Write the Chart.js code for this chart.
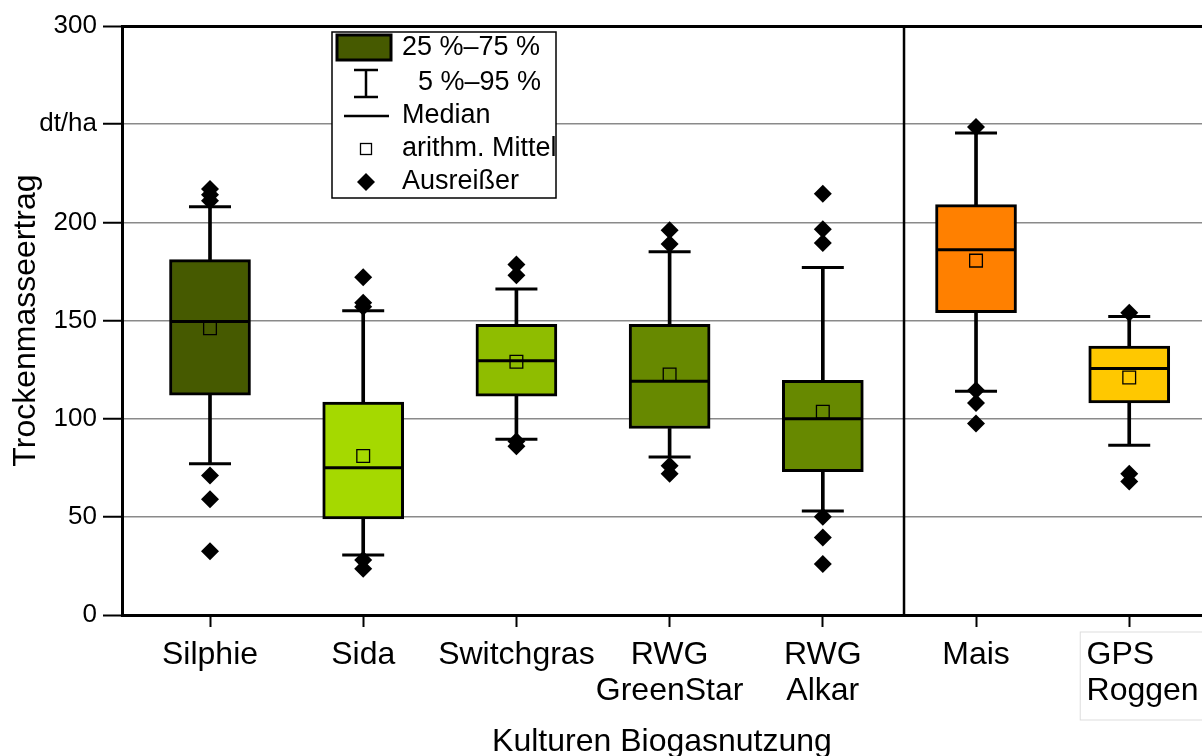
<!DOCTYPE html>
<html>
<head>
<meta charset="utf-8">
<script src="https://cdn.jsdelivr.net/npm/chart.js@4.4.0/dist/chart.umd.min.js"></script>
<style>
  html, body { margin: 0; padding: 0; background: #fff; }
  #wrap { width: 1202px; height: 756px; }
</style>
</head>
<body>
<div id="wrap"><canvas id="box"></canvas></div>
<script>
// Kulturen und Boxplot-Kennwerte (dt/ha)
const categories = ['Silphie', 'Sida', 'Switchgras', ['RWG', 'GreenStar'], ['RWG', 'Alkar'], 'Mais', ['GPS  ', '   Roggen']];
const q1     = [112, 49, 111.5, 95, 73, 154, 108];
const q3     = [181, 108.5, 148, 148, 119.5, 209, 137];
const median = [149.5, 75, 129.5, 119, 100, 186, 125.5];
const mean   = [146, 81, 129, 122.5, 103.5, 180.5, 121];
const p5     = [77, 30.5, 89.5, 80.5, 53, 114, 86.5];
const p95    = [208, 155, 166, 185, 177, 245.5, 152];
const outliers = [
  [217, 214, 211, 71, 59, 32.5],
  [172, 159, 157, 28, 23.5],
  [178.5, 173, 88.5, 86],
  [196, 189, 76, 72],
  [214.5, 196.5, 189.5, 50, 39.5, 26],
  [248.5, 114.5, 108, 97.5],
  [154, 72, 68]
];
const boxColors = ['#465a00', '#a5d900', '#8fbd00', '#678900', '#678900', '#ff8000', '#ffc800'];
const yTickLabels = ['0', '50', '100', '150', '200', 'dt/ha', '300'];
const legendLabels = ['25 %\u201375 %', '5 %\u201395 %', 'Median', 'arithm. Mittel', 'Ausrei\u00dfer'];

const xPos = categories.map((c, i) => i + 1);
const FONT = "'Liberation Sans', Arial, sans-serif";

const boxData = xPos.map((x, i) => ({ x: x, y: [q1[i], q3[i]] }));
const upperStem = xPos.map((x, i) => ({ x: x, y: [q3[i], p95[i]] }));
const lowerStem = xPos.map((x, i) => ({ x: x, y: [p5[i], q1[i]] }));
const capData = [];
xPos.forEach((x, i) => { capData.push({ x: x, y: p5[i] }); capData.push({ x: x, y: p95[i] }); });
const medianData = xPos.map((x, i) => ({ x: x, y: median[i] }));
const meanData = xPos.map((x, i) => ({ x: x, y: mean[i] }));
const outlierData = [];
outliers.forEach((list, i) => list.forEach(v => outlierData.push({ x: xPos[i], y: v })));

// Trennlinie, Rahmen um "GPS Roggen" und Legende
const extras = {
  id: 'extras',
  beforeDatasetsDraw(chart) {
    const { ctx, chartArea, scales } = chart;
    const sx = scales.x.getPixelForValue(5.53);
    ctx.save();
    ctx.strokeStyle = '#000';
    ctx.lineWidth = 2.5;
    ctx.beginPath();
    ctx.moveTo(sx, chartArea.top);
    ctx.lineTo(sx, chartArea.bottom);
    ctx.stroke();
    ctx.restore();
  },
  afterDraw(chart) {
    const { ctx, chartArea, scales } = chart;
    ctx.save();
    // Rahmen GPS Roggen
    const gx = scales.x.getPixelForValue(7);
    ctx.strokeStyle = '#dddddd';
    ctx.lineWidth = 1;
    ctx.strokeRect(gx - 49, chartArea.bottom + 17, 130, 88);

    // Legende
    const lx = chartArea.left + 210, ly = chartArea.top + 6, lw = 224, lh = 166;
    ctx.fillStyle = '#fff';
    ctx.fillRect(lx, ly, lw, lh);
    ctx.strokeStyle = '#000';
    ctx.lineWidth = 1.5;
    ctx.strokeRect(lx, ly, lw, lh);
    const cx = lx + 34;
    const rows = [16, 51, 84, 117, 150].map(r => ly + r);
    // 25-75
    ctx.fillStyle = boxColors[0];
    ctx.fillRect(lx + 5, ly + 3, 54, 25);
    ctx.lineWidth = 3;
    ctx.strokeRect(lx + 5, ly + 3, 54, 25);
    // 5-95
    ctx.lineWidth = 2.5;
    ctx.beginPath();
    ctx.moveTo(cx, rows[1] - 13); ctx.lineTo(cx, rows[1] + 14);
    ctx.moveTo(cx - 12, rows[1] - 13); ctx.lineTo(cx + 12, rows[1] - 13);
    ctx.moveTo(cx - 12, rows[1] + 14); ctx.lineTo(cx + 12, rows[1] + 14);
    ctx.stroke();
    // Median
    ctx.beginPath();
    ctx.moveTo(cx - 22, rows[2]); ctx.lineTo(cx + 23, rows[2]);
    ctx.stroke();
    // Mittel
    ctx.lineWidth = 1.3;
    ctx.strokeRect(cx - 5.5, rows[3] - 5.5, 11, 11);
    // Ausreisser
    ctx.fillStyle = '#000';
    ctx.beginPath();
    ctx.moveTo(cx, rows[4] - 9); ctx.lineTo(cx + 9, rows[4]);
    ctx.lineTo(cx, rows[4] + 9); ctx.lineTo(cx - 9, rows[4]);
    ctx.closePath();
    ctx.fill();
    ctx.font = '27px ' + FONT;
    ctx.textBaseline = 'middle';
    ctx.textAlign = 'left';
    legendLabels.forEach((t, i) => {
      ctx.fillText(t, lx + (i === 1 ? 86 : 70), rows[i]);
    });
    ctx.restore();
  }
};

new Chart(document.getElementById('box'), {
  type: 'bar',
  data: {
    datasets: [
      { type: 'scatter', data: outlierData, pointStyle: 'rectRot', pointRadius: 9,
        backgroundColor: '#000', borderColor: '#000', borderWidth: 0, order: 0 },
      { type: 'scatter', data: meanData, pointStyle: 'rect', pointRadius: 9,
        backgroundColor: 'rgba(0,0,0,0)', borderColor: '#000', borderWidth: 1.3, order: 1 },
      { type: 'scatter', data: medianData, pointStyle: 'line', pointRadius: 39,
        borderColor: '#000', borderWidth: 3, order: 2 },
      { type: 'scatter', data: capData, pointStyle: 'line', pointRadius: 21,
        borderColor: '#000', borderWidth: 3, order: 3 },
      { data: boxData, backgroundColor: boxColors, borderColor: '#000', borderWidth: 3,
        borderSkipped: false, barThickness: 81, grouped: false, order: 4 },
      { data: upperStem, backgroundColor: '#000', borderWidth: 0, barThickness: 3, grouped: false, order: 5 },
      { data: lowerStem, backgroundColor: '#000', borderWidth: 0, barThickness: 3, grouped: false, order: 6 }
    ]
  },
  options: {
    responsive: true,
    maintainAspectRatio: false,
    animation: false,
    layout: { autoPadding: false, padding: { top: 26, right: 0, left: 0, bottom: 0 } },
    plugins: { legend: { display: false }, tooltip: { enabled: false } },
    scales: {
      x: {
        type: 'linear',
        offset: false,
        min: 0.4256,
        max: 7.475,
        afterBuildTicks: (scale) => { scale.ticks = xPos.map(v => ({ value: v })); },
        afterFit: (scale) => {
          scale.height = 141;
          scale.paddingLeft = 0;
          scale.paddingRight = 0;
        },
        ticks: {
          autoSkip: false,
          maxRotation: 0,
          padding: 11,
          color: '#000',
          font: { family: FONT, size: 32, lineHeight: 1.1 },
          callback: (v, i) => categories[i]
        },
        grid: { offset: false, drawOnChartArea: false, drawTicks: true, tickLength: 12, tickColor: '#000', tickWidth: 2 },
        border: { color: '#000', width: 3 },
        title: {
          display: true,
          text: 'Kulturen Biogasnutzung',
          color: '#000',
          font: { family: FONT, size: 32, lineHeight: 1 },
          padding: { top: 0, bottom: -2 }
        }
      },
      y: {
        min: 0,
        max: 300,
        afterFit: (scale) => { scale.width = 122; },
        ticks: {
          stepSize: 50,
          padding: 6,
          color: '#000',
          font: { family: FONT, size: 26 },
          callback: (v, i) => yTickLabels[i]
        },
        grid: {
          color: (c) => (c.tick && (c.tick.value === 300 || c.tick.value === 0)) ? '#000' : '#8a8a8a',
          lineWidth: (c) => (c.tick && (c.tick.value === 300 || c.tick.value === 0)) ? 3 : 1.5,
          tickColor: '#000',
          tickWidth: 2,
          tickLength: 19
        },
        border: { color: '#000', width: 3 },
        title: {
          display: true,
          text: 'Trockenmasseertrag',
          color: '#000',
          font: { family: FONT, size: 32 },
          padding: { top: 7, bottom: 0 }
        }
      }
    }
  },
  plugins: [extras]
});
</script>
</body>
</html>
